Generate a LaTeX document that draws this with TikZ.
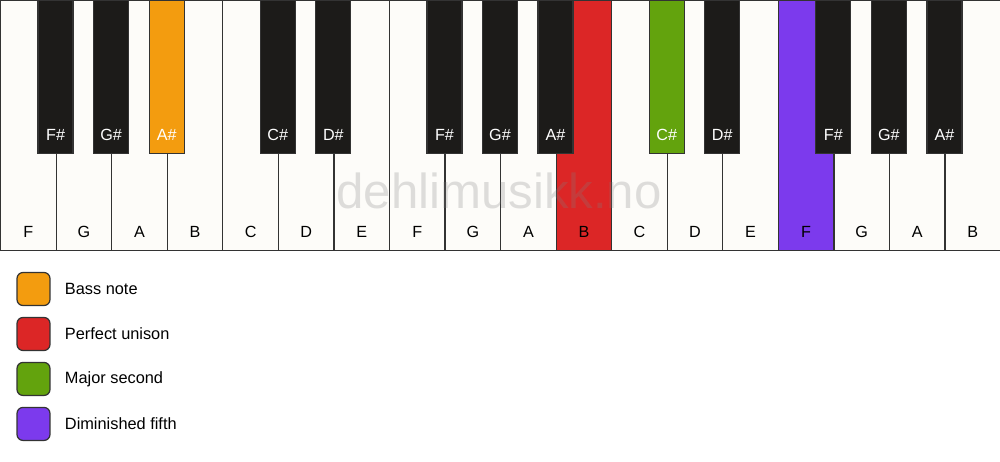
\documentclass[tikz,border=0pt]{standalone}
\usepackage{fontspec}
\setmainfont{Liberation Sans}
\usetikzlibrary{math}
\usetikzlibrary{positioning}
\definecolor{kwhite}{HTML}{FDFCF9}
\definecolor{kblack}{HTML}{1C1B19}
\definecolor{kline}{HTML}{333333}
\definecolor{korange}{HTML}{F39C0F}
\definecolor{kred}{HTML}{DC2626}
\definecolor{kgreen}{HTML}{63A30D}
\definecolor{kpurple}{HTML}{7C3AED}

\begin{document}
\begin{tikzpicture}[x=0.02cm, y=-0.02cm,
    key/.style={draw=kline, line width=0.7pt, inner sep=0pt},
    whitekey/.style={key, anchor=north west, minimum width=1.111cm, minimum height=5cm},
    blackkey/.style={key, anchor=north, minimum width=0.7cm, minimum height=3.06cm},
    keytext/.style={anchor=base, inner sep=0pt, font=\fontsize{9.2}{11}\selectfont},
    legendbox/.style={draw=kline, line width=0.7pt, rounded corners=3.4pt, minimum size=0.66cm, inner sep=0pt},
    legendtext/.style={anchor=west, inner sep=0pt, font=\fontsize{9.3}{11}\selectfont}]
  \tikzmath{
    \kw = 1000/18;
  }
  \useasboundingbox (0,0) rectangle (1000,461);

  % white keys
  \foreach \name [count=\i from 0] in {F,G,A,B,C,D,E,F,G,A,B,C,D,E,F,G,A,B} {
    \def\kcol{kwhite}
    \ifnum\i=10 \def\kcol{kred}\fi
    \ifnum\i=14 \def\kcol{kpurple}\fi
    \node [whitekey, fill=\kcol] (w\i) at ({\i*\kw}, 0) {};
    \node [keytext] (wl\i) at ([yshift=0.28cm]w\i.south) {\name};
  }

  % watermark
  \node [text=gray, text opacity=0.25, inner sep=0pt, font=\fontsize{28}{30}\selectfont] (wm) at (499, 191) {dehlimusikk.no};

  % black keys
  \foreach \n/\name/\kcol in {1/F\#/kblack, 2/G\#/kblack, 3/A\#/korange, 5/C\#/kblack, 6/D\#/kblack,
      8/F\#/kblack, 9/G\#/kblack, 10/A\#/kblack, 12/C\#/kgreen, 13/D\#/kblack,
      15/F\#/kblack, 16/G\#/kblack, 17/A\#/kblack} {
    \node [blackkey, fill=\kcol] (b\n) at ({\n*\kw}, 0) {};
    \node [keytext, text=white] (bl\n) at ([yshift=0.28cm]b\n.south) {\name};
  }

  % legend
  \node [legendbox, fill=korange] (ls1) at (33.5, 289) {};
  \node [legendbox, fill=kred, below=0.215cm of ls1] (ls2) {};
  \node [legendbox, fill=kgreen, below=0.215cm of ls2] (ls3) {};
  \node [legendbox, fill=kpurple, below=0.215cm of ls3] (ls4) {};
  \node [legendtext, right=0.28cm of ls1] (lt1) {Bass note};
  \node [legendtext, right=0.28cm of ls2] (lt2) {Perfect unison};
  \node [legendtext, right=0.28cm of ls3] (lt3) {Major second};
  \node [legendtext, right=0.28cm of ls4] (lt4) {Diminished fifth};
\end{tikzpicture}
\end{document}
